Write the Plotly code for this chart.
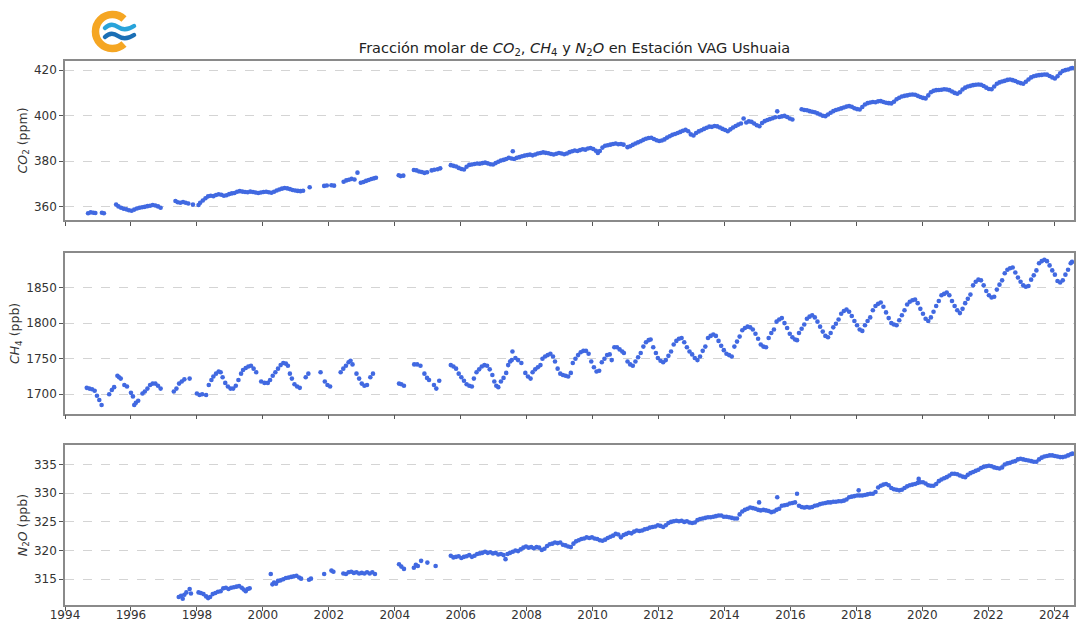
import base64
import plotly.graph_objects as go
from plotly.subplots import make_subplots

# ---- CO2 (ppm) ----
co2_year = [
    1994.70, 1994.78, 1994.86, 1994.92, 1995.12, 1995.18,
    1995.55, 1995.62, 1995.70, 1995.78, 1995.86, 1995.94, 1996.02, 1996.10, 1996.18, 1996.26,
    1996.34, 1996.42, 1996.50, 1996.58, 1996.66, 1996.74, 1996.82, 1996.90,
    1997.35, 1997.42, 1997.50, 1997.58, 1997.66, 1997.74, 1997.88,
    1998.05, 1998.10, 1998.18, 1998.26, 1998.34, 1998.42, 1998.50, 1998.58, 1998.66, 1998.74,
    1998.82, 1998.90, 1998.98, 1999.06, 1999.14, 1999.22, 1999.30, 1999.38, 1999.46, 1999.54,
    1999.62, 1999.70, 1999.78, 1999.86, 1999.94, 2000.02, 2000.10, 2000.18, 2000.26, 2000.34,
    2000.42, 2000.50, 2000.58, 2000.66, 2000.74, 2000.82, 2000.90, 2000.98, 2001.06, 2001.14,
    2001.22, 2001.42,
    2001.86, 2001.94, 2002.08, 2002.16,
    2002.45, 2002.53, 2002.61, 2002.69, 2002.78, 2002.87,
    2002.97, 2003.05, 2003.13, 2003.21, 2003.29, 2003.37, 2003.43,
    2004.12, 2004.18, 2004.26,
    2004.58, 2004.66, 2004.74, 2004.82, 2004.90, 2004.98, 2005.12, 2005.20, 2005.30, 2005.38,
    2005.70, 2005.78, 2005.86, 2005.94, 2006.02, 2006.10, 2006.18, 2006.26, 2006.34, 2006.42,
    2006.50, 2006.58, 2006.66, 2006.74, 2006.82, 2006.90, 2006.98, 2007.06, 2007.14, 2007.22,
    2007.30, 2007.38, 2007.46, 2007.54, 2007.58, 2007.62, 2007.70, 2007.78, 2007.86, 2007.94,
    2008.02, 2008.10, 2008.18, 2008.26, 2008.34, 2008.42, 2008.50, 2008.58, 2008.66, 2008.74,
    2008.82, 2008.90, 2008.98, 2009.06, 2009.14, 2009.22, 2009.30, 2009.38, 2009.46, 2009.54,
    2009.62, 2009.70, 2009.78, 2009.86, 2009.94, 2010.02, 2010.10, 2010.16, 2010.22, 2010.30,
    2010.38, 2010.46, 2010.54, 2010.62, 2010.70, 2010.78, 2010.86, 2010.94,
    2011.06, 2011.14, 2011.22, 2011.30, 2011.38, 2011.46, 2011.54, 2011.62, 2011.70, 2011.78,
    2011.86, 2011.94, 2012.02, 2012.10, 2012.18, 2012.26, 2012.34, 2012.42, 2012.50, 2012.58,
    2012.66, 2012.74, 2012.82, 2012.90, 2012.98, 2013.06, 2013.14, 2013.22, 2013.30, 2013.38,
    2013.46, 2013.54, 2013.62, 2013.70, 2013.78, 2013.86, 2013.94, 2014.02, 2014.10, 2014.18,
    2014.26, 2014.34, 2014.42, 2014.50, 2014.58, 2014.66, 2014.74, 2014.82, 2014.90, 2014.98,
    2015.06, 2015.14, 2015.22, 2015.30, 2015.38, 2015.46, 2015.54, 2015.60, 2015.66, 2015.74,
    2015.82, 2015.90, 2015.98, 2016.06,
    2016.34, 2016.42, 2016.50, 2016.58, 2016.66, 2016.74, 2016.82, 2016.90, 2016.98, 2017.06,
    2017.14, 2017.22, 2017.30, 2017.38, 2017.46, 2017.54, 2017.62, 2017.70, 2017.78, 2017.86,
    2017.94, 2018.02, 2018.10, 2018.18, 2018.26, 2018.34, 2018.42, 2018.50, 2018.58, 2018.66,
    2018.74, 2018.82, 2018.90, 2018.98, 2019.06, 2019.14, 2019.22, 2019.30, 2019.38, 2019.46,
    2019.54, 2019.62, 2019.70, 2019.78, 2019.86, 2019.94, 2020.02, 2020.10, 2020.18, 2020.26,
    2020.34, 2020.42, 2020.50, 2020.58, 2020.66, 2020.74, 2020.82, 2020.90, 2020.98, 2021.06,
    2021.14, 2021.22, 2021.30, 2021.38, 2021.46, 2021.54, 2021.62, 2021.70, 2021.78, 2021.86,
    2021.94, 2022.02, 2022.10, 2022.18, 2022.26, 2022.34, 2022.42, 2022.50, 2022.58, 2022.66,
    2022.74, 2022.82, 2022.90, 2022.98, 2023.06, 2023.14, 2023.22, 2023.30, 2023.38, 2023.46,
    2023.54, 2023.62, 2023.70, 2023.78, 2023.86, 2023.94, 2024.02, 2024.10, 2024.18, 2024.26,
    2024.34, 2024.42, 2024.50, 2024.55,
]
co2_ppm = [
    357.2, 357.6, 357.4, 357.3, 357.4, 357.2,
    361.0, 360.2, 359.6, 359.2, 358.9, 358.5, 358.3, 358.8, 359.3, 359.6,
    359.8, 360.0, 360.3, 360.5, 360.8, 360.6, 360.2, 359.6,
    362.6, 362.0, 361.8, 362.1, 361.8, 361.5, 361.0,
    360.8, 361.8, 362.8, 363.8, 364.6, 364.9, 364.7, 365.2, 365.5, 365.3,
    364.9, 365.1, 365.6, 365.9, 366.1, 366.6, 366.9, 366.7, 366.5, 366.4,
    366.7, 366.5, 366.3, 366.1, 366.3, 366.5, 366.6, 366.4, 366.2, 366.6,
    367.2, 367.6, 368.0, 368.3, 368.1, 367.8, 367.4, 367.2, 367.0, 366.9,
    367.1, 368.6,
    369.2, 369.4, 369.5, 369.3,
    371.0, 371.6, 371.9, 372.3, 372.0, 375.0,
    370.6, 370.9, 371.4, 371.8, 372.2, 372.5, 372.8,
    373.9, 373.5, 373.7,
    376.2, 376.0, 375.5, 375.3, 374.9, 375.2, 376.0, 376.3, 376.5, 376.9,
    378.3, 378.0, 377.7, 377.1, 376.6, 376.4, 377.6, 378.4, 378.6, 378.8,
    379.0, 378.9, 379.2, 379.4, 379.1, 378.7, 378.6, 379.2, 379.8, 380.3,
    380.6, 381.0, 381.5, 381.2, 384.4, 381.0, 381.5, 381.8, 382.2, 382.5,
    382.7, 382.9, 382.6, 383.0, 383.4, 383.6, 383.9, 383.7, 383.5, 383.2,
    383.0, 383.3, 383.6, 383.4, 383.1, 383.4, 384.0, 384.4, 384.7, 384.5,
    384.9, 385.3, 385.1, 385.6, 385.8, 385.4, 384.6, 383.6, 384.5, 386.0,
    386.8, 387.0, 387.3, 387.6, 387.8, 387.5, 387.6, 387.3,
    386.2, 386.6, 387.2, 387.8, 388.3, 388.8, 389.4, 389.9, 390.2, 390.3,
    389.8, 389.2, 388.9, 389.1, 389.6, 390.4, 391.0, 391.6, 392.0, 392.4,
    392.9, 393.4, 393.8, 393.2, 391.8, 391.3, 392.4, 393.1, 393.6, 394.2,
    394.7, 395.2, 395.1, 395.5, 395.3, 394.8, 394.2, 393.7, 393.2, 394.0,
    394.8, 395.5, 396.1, 396.6, 398.8, 397.0, 397.5, 397.3, 396.6, 395.8,
    395.4, 396.8, 397.6, 398.1, 398.5, 398.9, 399.3, 401.9, 399.4, 399.7,
    399.9, 399.4, 398.8, 398.3,
    402.8, 402.5, 402.4, 402.0, 401.7, 401.5, 401.0, 400.5, 400.0, 399.8,
    400.5, 401.3, 402.0, 402.5, 402.8, 403.2, 403.6, 404.0, 404.2, 403.9,
    403.3, 402.9, 402.7, 403.8, 404.9, 405.5, 405.8, 406.0, 405.9, 406.3,
    406.4, 406.0, 405.7, 405.5, 405.4, 406.1, 407.2, 407.9, 408.4, 408.7,
    408.9, 409.2, 409.3, 409.2, 408.7, 408.2, 407.8, 407.6, 408.9, 410.3,
    410.9, 411.2, 411.3, 411.4, 411.6, 411.5, 411.2, 410.6, 410.0, 409.6,
    410.3, 411.5, 412.3, 412.8, 413.1, 413.4, 413.6, 413.7, 413.6, 413.0,
    412.3, 411.7, 411.6, 412.8, 414.0, 414.6, 415.0, 415.3, 415.7, 415.9,
    415.6, 415.2, 414.7, 414.3, 414.0, 414.9, 415.9, 416.8, 417.3, 417.6,
    417.8, 417.9, 418.1, 418.0, 417.4, 416.8, 416.3, 417.3, 418.6, 419.6,
    420.0, 420.3, 420.7, 420.9,
]

# ---- CH4 (ppb) ----
ch4_year = [
    1994.66, 1994.74, 1994.82, 1994.90, 1994.97, 1995.04, 1995.11,
    1995.34, 1995.42, 1995.49, 1995.59, 1995.64, 1995.69, 1995.80, 1995.88, 1996.00, 1996.06,
    1996.10, 1996.15, 1996.22, 1996.35, 1996.42, 1996.50, 1996.58, 1996.66, 1996.74, 1996.82,
    1996.90,
    1997.30, 1997.38, 1997.46, 1997.54, 1997.62, 1997.78,
    1998.00, 1998.08, 1998.16, 1998.28, 1998.36, 1998.44, 1998.50, 1998.58, 1998.66, 1998.72,
    1998.78, 1998.86, 1998.94, 1999.02, 1999.10, 1999.18, 1999.26, 1999.34, 1999.40, 1999.48,
    1999.56, 1999.64, 1999.72, 1999.80,
    1999.95, 2000.05, 2000.15, 2000.22, 2000.30, 2000.38, 2000.46, 2000.54, 2000.62, 2000.70,
    2000.76, 2000.82, 2000.88, 2000.96, 2001.04, 2001.12,
    2001.30, 2001.38,
    2001.75, 2001.88, 2001.96, 2002.04,
    2002.36, 2002.44, 2002.52, 2002.60, 2002.66, 2002.72, 2002.84, 2002.92, 2003.00, 2003.08,
    2003.16, 2003.26, 2003.34,
    2004.13, 2004.20, 2004.28,
    2004.59, 2004.68, 2004.78, 2004.90, 2004.98, 2005.04, 2005.19, 2005.26, 2005.35,
    2005.70, 2005.78, 2005.86, 2005.94, 2006.02, 2006.10, 2006.18, 2006.26, 2006.34, 2006.40,
    2006.48, 2006.56, 2006.64, 2006.72, 2006.80, 2006.88, 2006.96, 2007.02, 2007.08, 2007.14,
    2007.22, 2007.30, 2007.38, 2007.44, 2007.50, 2007.55, 2007.57, 2007.66, 2007.74, 2007.84,
    2007.96, 2008.04, 2008.12, 2008.18, 2008.26, 2008.34, 2008.42, 2008.48, 2008.56, 2008.64,
    2008.72, 2008.80, 2008.86, 2008.94, 2009.02, 2009.10, 2009.18, 2009.26, 2009.34, 2009.40,
    2009.48, 2009.56, 2009.64, 2009.72, 2009.80, 2009.88, 2009.96, 2010.04, 2010.12, 2010.20,
    2010.28, 2010.36, 2010.44, 2010.52, 2010.58, 2010.66, 2010.74, 2010.82, 2010.90, 2010.95,
    2011.06, 2011.14, 2011.22, 2011.30, 2011.38, 2011.46, 2011.54, 2011.62, 2011.70, 2011.76,
    2011.84, 2011.92, 2011.98, 2012.06, 2012.14, 2012.22, 2012.30, 2012.38, 2012.46, 2012.54,
    2012.62, 2012.70, 2012.78, 2012.86, 2012.94, 2013.02, 2013.10, 2013.18, 2013.26, 2013.34,
    2013.42, 2013.50, 2013.58, 2013.66, 2013.74, 2013.82, 2013.90, 2013.98, 2014.06, 2014.14,
    2014.22, 2014.30, 2014.38, 2014.46, 2014.54, 2014.62, 2014.70, 2014.78, 2014.86, 2014.94,
    2015.02, 2015.10, 2015.18, 2015.26, 2015.34, 2015.42, 2015.50, 2015.58, 2015.66, 2015.74,
    2015.82, 2015.90, 2015.98, 2016.06, 2016.14, 2016.20,
    2016.26, 2016.34, 2016.42, 2016.50, 2016.58, 2016.66, 2016.74, 2016.82, 2016.90, 2016.98,
    2017.06, 2017.14, 2017.22, 2017.30, 2017.38, 2017.46, 2017.54, 2017.62, 2017.70, 2017.78,
    2017.86, 2017.94, 2018.02, 2018.10, 2018.18, 2018.26, 2018.34, 2018.42, 2018.50, 2018.58,
    2018.66, 2018.74, 2018.82, 2018.90, 2018.98, 2019.06, 2019.14, 2019.22, 2019.30, 2019.38,
    2019.46, 2019.54, 2019.62, 2019.70, 2019.78, 2019.86, 2019.94, 2020.02, 2020.10, 2020.18,
    2020.26, 2020.34, 2020.42, 2020.50, 2020.58, 2020.66, 2020.74, 2020.82, 2020.90, 2020.98,
    2021.06, 2021.14, 2021.22, 2021.30, 2021.38, 2021.46, 2021.54, 2021.62, 2021.70, 2021.78,
    2021.86, 2021.94, 2022.02, 2022.10, 2022.18, 2022.26, 2022.34, 2022.42, 2022.50, 2022.58,
    2022.66, 2022.74, 2022.82, 2022.90, 2022.98, 2023.06, 2023.14, 2023.22, 2023.30, 2023.38,
    2023.46, 2023.54, 2023.62, 2023.70, 2023.78, 2023.86, 2023.94, 2024.02, 2024.10, 2024.18,
    2024.26, 2024.34, 2024.42, 2024.50, 2024.54,
]
ch4_ppb = [
    1709, 1708, 1707, 1705, 1698, 1692, 1685,
    1700, 1706, 1710, 1726, 1724, 1722, 1713, 1711, 1702, 1697,
    1685, 1688, 1691, 1701, 1704, 1708, 1713, 1715, 1715, 1712,
    1708,
    1704, 1708, 1715, 1718, 1721, 1722,
    1701, 1699, 1700, 1699, 1713, 1720, 1725, 1729, 1732, 1731,
    1724, 1716, 1711, 1708, 1708, 1712, 1720, 1729, 1734, 1737,
    1739, 1740, 1736, 1731,
    1718, 1716, 1716, 1720, 1726, 1731, 1736, 1741, 1744, 1743,
    1740, 1729, 1722, 1714, 1711, 1709,
    1724, 1729,
    1731, 1718, 1713, 1711,
    1731, 1736, 1740, 1745, 1747, 1742, 1729, 1722, 1715, 1712,
    1713, 1724, 1729,
    1715, 1714, 1712,
    1742, 1742, 1740, 1729, 1723, 1720, 1713, 1708, 1719,
    1741, 1739, 1736, 1729, 1724, 1719, 1714, 1712, 1711, 1722,
    1731, 1735, 1739, 1741, 1740, 1735, 1727, 1718, 1712, 1710,
    1718, 1723, 1730, 1741, 1746, 1748, 1760, 1751, 1748, 1744,
    1730, 1725, 1722, 1731, 1735, 1738, 1741, 1750, 1753, 1755,
    1757, 1753, 1746, 1736, 1729, 1727, 1726, 1725, 1730, 1744,
    1750, 1755, 1759, 1761, 1761, 1757, 1746, 1738, 1732, 1733,
    1745, 1750, 1755, 1756, 1748, 1766, 1766, 1763, 1760, 1758,
    1746, 1742, 1740, 1746, 1752, 1758, 1767, 1773, 1776, 1777,
    1766, 1758, 1751, 1747, 1745, 1748, 1754, 1760, 1770, 1775,
    1778, 1779, 1773, 1766, 1760, 1756, 1751, 1748, 1753, 1761,
    1767, 1779, 1782, 1784, 1782, 1775, 1768, 1762, 1757, 1755,
    1753, 1767, 1774, 1781, 1790, 1793, 1795, 1794, 1791, 1785,
    1778, 1770, 1767, 1766, 1779, 1786, 1791, 1802, 1805, 1807,
    1800, 1793, 1785, 1780, 1777, 1776,
    1786, 1792, 1798, 1806, 1809, 1811, 1808, 1802, 1795, 1788,
    1782, 1780, 1786, 1794, 1799, 1805, 1813, 1817, 1819, 1816,
    1810, 1803, 1797, 1791, 1789, 1797, 1803, 1808, 1818, 1824,
    1827, 1829, 1823, 1815, 1807, 1800, 1798, 1797, 1804, 1811,
    1818, 1826, 1830, 1832, 1833, 1828, 1820, 1813, 1806, 1803,
    1808, 1816, 1824, 1831, 1839, 1841, 1843, 1839, 1831, 1824,
    1818, 1814, 1820, 1828, 1834, 1840, 1853, 1858, 1861, 1860,
    1853, 1845, 1839, 1836, 1837, 1847, 1854, 1860, 1870, 1875,
    1877, 1878, 1871, 1864, 1858, 1853, 1851, 1852, 1861, 1867,
    1874, 1884, 1887, 1889, 1887, 1881, 1874, 1868, 1859, 1857,
    1860, 1868, 1875, 1884, 1886,
]

# ---- N2O (ppb) ----
n2o_year = [
    1997.45, 1997.52, 1997.57, 1997.62, 1997.68, 1997.78, 1997.82,
    1998.05, 1998.12, 1998.20, 1998.28, 1998.34, 1998.40, 1998.48, 1998.56, 1998.64, 1998.72,
    1998.80, 1998.88, 1998.96, 1999.04, 1999.12, 1999.20, 1999.28, 1999.36, 1999.42, 1999.48,
    1999.54, 1999.60,
    2000.24, 2000.29, 2000.34, 2000.40, 2000.46, 2000.54, 2000.62, 2000.70, 2000.78, 2000.86,
    2000.94, 2001.02, 2001.10, 2001.16,
    2001.40, 2001.46,
    2001.86, 2002.08, 2002.14,
    2002.44, 2002.52, 2002.60, 2002.68, 2002.76, 2002.84, 2002.92, 2003.00, 2003.08, 2003.16,
    2003.24, 2003.32, 2003.40,
    2004.13, 2004.20, 2004.28,
    2004.58, 2004.64, 2004.70, 2004.80, 2004.99, 2005.24,
    2005.70, 2005.78, 2005.86, 2005.94, 2006.02, 2006.10, 2006.18, 2006.26, 2006.34, 2006.42,
    2006.50, 2006.58, 2006.66, 2006.74, 2006.82, 2006.90, 2006.98, 2007.06, 2007.14, 2007.22,
    2007.30, 2007.36, 2007.42, 2007.50, 2007.58, 2007.66, 2007.74, 2007.82, 2007.90, 2007.98,
    2008.06, 2008.14, 2008.22, 2008.30, 2008.38, 2008.46, 2008.54, 2008.62, 2008.70, 2008.78,
    2008.86, 2008.94, 2009.02, 2009.10, 2009.18, 2009.26, 2009.34, 2009.42, 2009.50, 2009.58,
    2009.66, 2009.74, 2009.82, 2009.90, 2009.98, 2010.06, 2010.14, 2010.22, 2010.30, 2010.38,
    2010.46, 2010.54, 2010.62, 2010.70, 2010.78, 2010.86, 2010.94, 2011.02, 2011.10, 2011.18,
    2011.26, 2011.34, 2011.42, 2011.50, 2011.58, 2011.66, 2011.74, 2011.82, 2011.90, 2011.98,
    2012.06, 2012.14, 2012.22, 2012.30, 2012.38, 2012.46, 2012.54, 2012.62, 2012.70, 2012.78,
    2012.86, 2012.94, 2013.02, 2013.10, 2013.18, 2013.26, 2013.34, 2013.42, 2013.50, 2013.58,
    2013.66, 2013.74, 2013.82, 2013.90, 2013.98, 2014.06, 2014.14, 2014.22, 2014.30, 2014.38,
    2014.46, 2014.54, 2014.62, 2014.70, 2014.78, 2014.86, 2014.94, 2015.02, 2015.05, 2015.10,
    2015.18, 2015.26, 2015.34, 2015.42, 2015.50, 2015.58, 2015.60, 2015.66, 2015.74, 2015.82,
    2015.90, 2015.98, 2016.06, 2016.14, 2016.20, 2016.26, 2016.34, 2016.42, 2016.50, 2016.58,
    2016.66, 2016.74, 2016.82, 2016.90, 2016.98, 2017.06, 2017.14, 2017.22, 2017.30, 2017.38,
    2017.46, 2017.54, 2017.62, 2017.70, 2017.78, 2017.86, 2017.94, 2018.02, 2018.07, 2018.10,
    2018.18, 2018.26, 2018.34, 2018.42, 2018.50, 2018.58, 2018.66, 2018.74, 2018.82, 2018.90,
    2018.98, 2019.06, 2019.14, 2019.22, 2019.30, 2019.38, 2019.46, 2019.54, 2019.62, 2019.70,
    2019.78, 2019.86, 2019.89, 2019.94, 2020.02, 2020.10, 2020.18, 2020.26, 2020.34, 2020.42,
    2020.50, 2020.58, 2020.66, 2020.74, 2020.82, 2020.90, 2020.98, 2021.06, 2021.14, 2021.22,
    2021.30, 2021.38, 2021.46, 2021.54, 2021.62, 2021.70, 2021.78, 2021.86, 2021.94, 2022.02,
    2022.10, 2022.18, 2022.26, 2022.34, 2022.42, 2022.50, 2022.58, 2022.66, 2022.74, 2022.82,
    2022.90, 2022.98, 2023.06, 2023.14, 2023.22, 2023.30, 2023.38, 2023.46, 2023.54, 2023.62,
    2023.70, 2023.78, 2023.86, 2023.94, 2024.02, 2024.10, 2024.18, 2024.26, 2024.34, 2024.42,
    2024.50, 2024.55,
]
n2o_ppb = [
    311.9, 312.1, 311.6, 312.3, 312.7, 313.3, 312.5,
    312.7, 312.6, 312.4, 312.0, 311.7, 311.9, 312.4, 312.6, 312.8, 312.9,
    313.4, 313.5, 313.3, 313.5, 313.6, 313.7, 313.8, 313.5, 313.2, 312.9,
    313.3, 313.4,
    315.9, 314.1, 314.4, 314.2, 314.7, 314.8, 315.0, 315.2, 315.3, 315.4,
    315.5, 315.6, 315.3, 315.1,
    314.9, 315.1,
    315.9, 316.5, 316.3,
    316.0, 315.9, 316.2, 316.3, 316.1, 316.2, 316.0, 316.1, 316.0, 316.2,
    316.0, 316.2, 315.9,
    317.6, 317.2, 316.8,
    317.0, 317.5, 317.3, 318.2, 317.9, 317.3,
    319.1, 318.8, 318.9, 319.0, 318.7, 318.9, 319.0, 319.2, 318.9, 319.1,
    319.4, 319.5, 319.6, 319.8, 319.6, 319.7, 319.5, 319.6, 319.3, 319.4,
    319.2, 318.5, 319.4, 319.6, 319.8, 320.0, 319.9, 320.2, 320.5, 320.7,
    320.5, 320.6, 320.4, 320.6, 320.5, 320.1, 320.3, 320.8, 321.1, 321.2,
    321.4, 321.3, 321.4, 321.0, 320.9, 320.7, 320.6, 321.2, 321.6, 321.8,
    322.0, 322.1, 322.3, 322.2, 322.3, 322.1, 322.0, 321.8, 321.7, 321.9,
    322.2, 322.4, 322.6, 322.9, 322.8, 322.3, 322.7, 322.9, 323.1, 323.0,
    323.3, 323.5, 323.4, 323.5, 323.7, 323.8, 324.0, 324.1, 324.2, 324.4,
    324.3, 324.1, 324.4, 324.8, 325.0, 325.1, 325.2, 325.1, 325.2, 325.0,
    325.1, 324.9, 324.8, 324.9, 325.3, 325.5, 325.6, 325.7, 325.8, 325.8,
    325.9, 326.0, 326.1, 326.1, 325.9, 325.9, 325.8, 325.7, 325.6, 325.6,
    326.3, 326.8, 327.1, 327.3, 327.5, 327.4, 327.3, 327.1, 328.4, 327.0,
    327.1, 327.0, 326.9, 326.7, 326.8, 327.1, 329.3, 327.3, 327.8, 327.9,
    328.0, 328.2, 328.3, 328.4, 329.9, 327.8, 327.6, 327.5, 327.6, 327.5,
    327.6, 327.8, 327.9, 328.1, 328.2, 328.3, 328.4, 328.4, 328.5, 328.5,
    328.6, 328.6, 328.7, 328.9, 329.3, 329.4, 329.5, 329.6, 330.5, 329.6,
    329.6, 329.7, 329.8, 329.9, 329.9, 330.2, 331.0, 331.3, 331.5, 331.6,
    331.4, 330.9, 330.7, 330.6, 330.5, 330.6, 330.9, 331.2, 331.4, 331.5,
    331.6, 331.8, 332.5, 331.9, 331.9, 331.7, 331.4, 331.3, 331.3, 331.6,
    332.1, 332.4, 332.6, 332.8, 333.1, 333.4, 333.4, 333.3, 333.1, 332.9,
    332.8, 333.2, 333.5, 333.7, 333.9, 334.1, 334.4, 334.6, 334.7, 334.8,
    334.7, 334.5, 334.4, 334.3, 334.5, 335.0, 335.2, 335.3, 335.5, 335.6,
    335.9, 336.0, 335.9, 335.8, 335.7, 335.6, 335.5, 335.5, 335.9, 336.2,
    336.4, 336.5, 336.6, 336.6, 336.5, 336.4, 336.3, 336.3, 336.4, 336.6,
    336.8, 336.9,
]

year_ticks = list(range(1994, 2025, 2))
co2_ticks = [360, 380, 400, 420]
ch4_ticks = [1700, 1750, 1800, 1850]
n2o_ticks = [315, 320, 325, 330, 335]

MARKER = "#4169E1"
FONT = "DejaVu Sans, Arial, sans-serif"

fig = make_subplots(rows=3, cols=1, shared_xaxes=True)

for row, (xs, ys) in enumerate(
    [(co2_year, co2_ppm), (ch4_year, ch4_ppb), (n2o_year, n2o_ppb)], start=1
):
    fig.add_trace(
        go.Scatter(
            x=xs, y=ys, mode="markers",
            marker=dict(color=MARKER, size=4.6, line=dict(width=0)),
            showlegend=False, hoverinfo="x+y",
        ),
        row=row, col=1,
    )

axis_common = dict(
    showline=True, mirror=True, linecolor="#8a8a8a", linewidth=1.5,
    ticks="outside", ticklen=4, tickwidth=1, tickcolor="#555",
    tickfont=dict(family=FONT, size=12, color="#333"),
    zeroline=False, automargin=False,
)

for i in range(1, 4):
    fig.update_xaxes(
        range=[1994, 2024.6], tickvals=year_ticks, showgrid=False,
        showticklabels=(i == 3), **axis_common, row=i, col=1,
    )
# pull the year labels closer to the bottom axis so they fit in the margin
fig.update_xaxes(ticklabelstandoff=-6, row=3, col=1)

title_font = dict(family=FONT, size=12.5, color="#333")
fig.update_yaxes(
    range=[354.3, 424], tickvals=co2_ticks, row=1, col=1,
    title=dict(text="<i>CO</i><sub>2</sub> (ppm)", font=title_font, standoff=4),
    domain=[0.708, 1.0],
)
fig.update_yaxes(
    range=[1673, 1898], tickvals=ch4_ticks, row=2, col=1,
    title=dict(text="<i>CH</i><sub>4</sub> (ppb)", font=title_font, standoff=4),
    domain=[0.352, 0.6465],
)
fig.update_yaxes(
    range=[310.5, 338.4], tickvals=n2o_ticks, row=3, col=1,
    title=dict(text="<i>N</i><sub>2</sub><i>O</i> (ppb)", font=title_font, standoff=4),
    domain=[0.0, 0.294],
)
fig.update_yaxes(
    showgrid=True, gridcolor="#d4d4d4", griddash="dash", gridwidth=1,
    **axis_common,
)

# Institutional logo: orange ring with blue waves
logo_svg = """<svg xmlns='http://www.w3.org/2000/svg' width='50' height='45' viewBox='0 0 50 45'>
<path d='M 34 9 A 17 17 0 1 0 34 34' fill='none' stroke='#F5A623' stroke-width='7.5'/>
<path d='M 15 18 Q 21 12 28 17 T 44 16' fill='none' stroke='#29A3DA' stroke-width='4.5' stroke-linecap='round'/>
<path d='M 15 27 Q 21 21 28 26 T 44 25' fill='none' stroke='#1B6FB5' stroke-width='4.5' stroke-linecap='round'/>
</svg>"""
logo_uri = "data:image/svg+xml;base64," + base64.b64encode(logo_svg.encode()).decode()

W, H = 1077, 623
ML, MR, MT, MB = 65, 3, 61, 18
pw, ph = W - ML - MR, H - MT - MB

fig.add_layout_image(
    source=logo_uri, xref="paper", yref="paper",
    x=(90 - ML) / pw, y=(ph + MT - 10) / ph,
    sizex=50 / pw, sizey=45 / ph, sizing="stretch",
    xanchor="left", yanchor="top", layer="above",
)

fig.update_layout(
    width=W, height=H,
    margin=dict(l=ML, r=MR, t=MT, b=MB, autoexpand=False),
    paper_bgcolor="white", plot_bgcolor="white",
    font=dict(family=FONT, size=12, color="#333"),
    title=dict(
        text="Fracción molar de <i>CO</i><sub>2</sub>, <i>CH</i><sub>4</sub> y "
             "<i>N</i><sub>2</sub><i>O</i> en Estación VAG Ushuaia",
        x=0.505, xref="paper", xanchor="center",
        y=1 - 48 / H, yref="container", yanchor="middle",
        font=dict(family=FONT, size=14.5, color="#222"),
    ),
)

fig.write_html("out.html")
